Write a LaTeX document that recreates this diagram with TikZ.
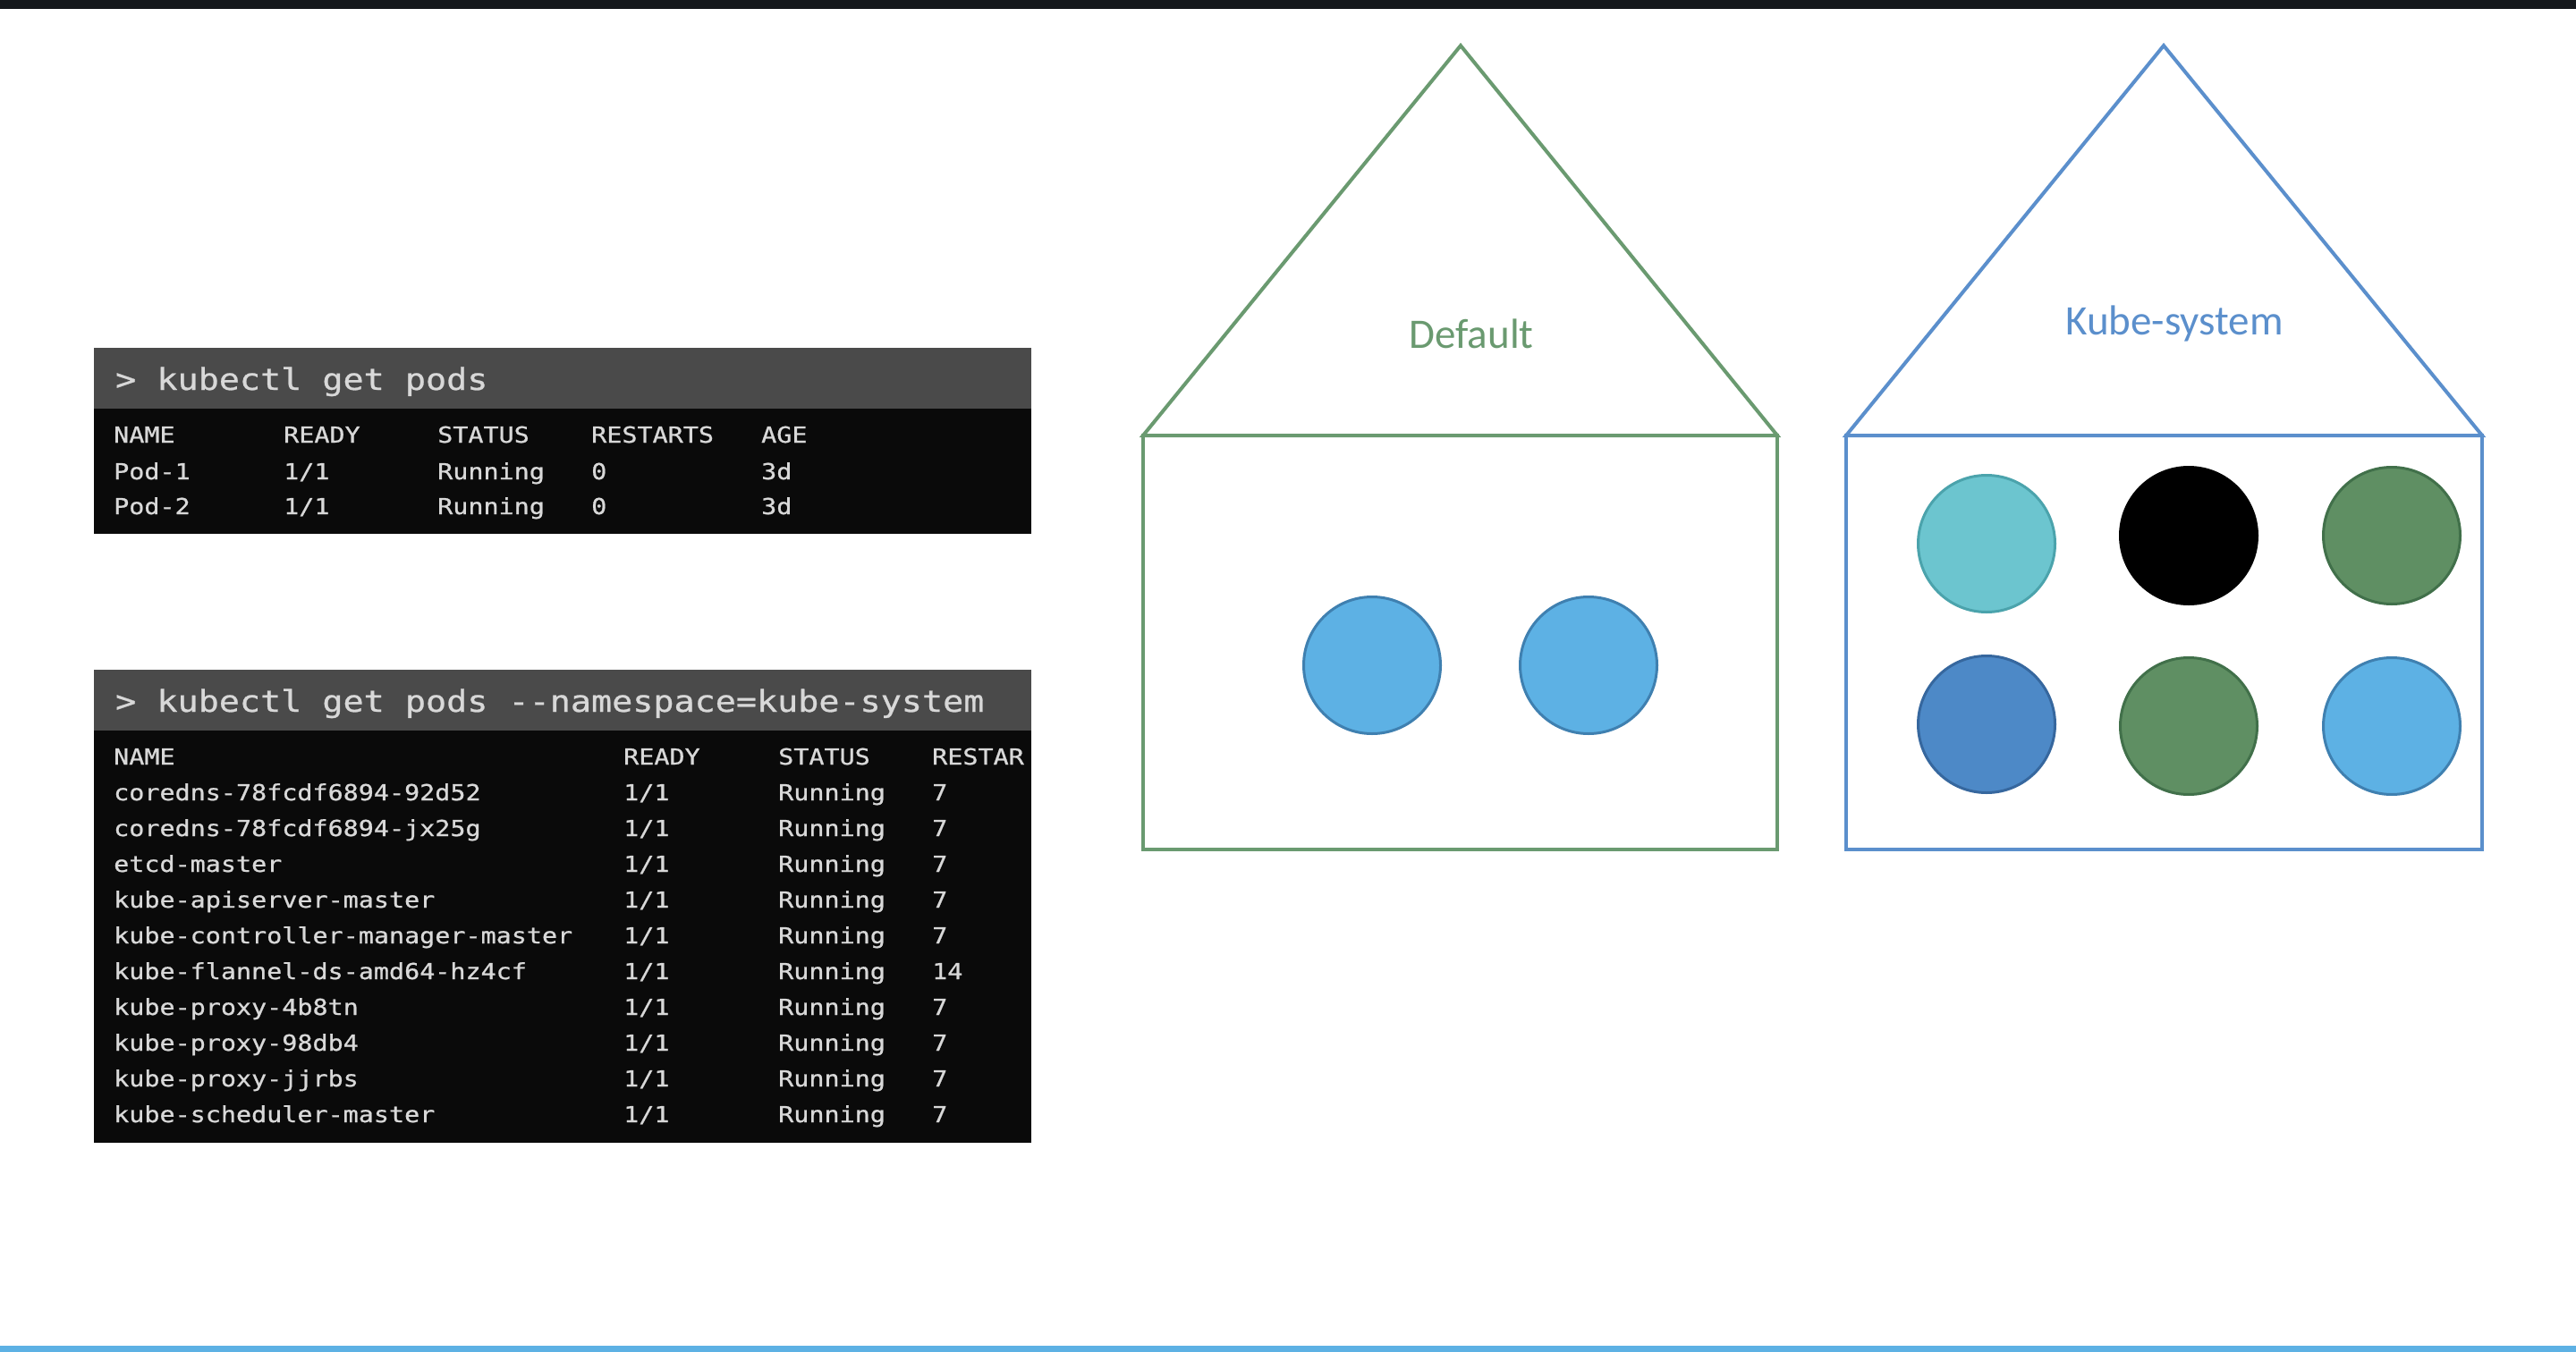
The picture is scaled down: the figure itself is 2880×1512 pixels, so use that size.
\documentclass[tikz,border=0pt]{standalone}
\usepackage{fontspec}
\setmainfont{Carlito}
\newfontfamily\termfont[FakeStretch=1.15,FakeBold=0.8]{DejaVu Sans Mono}
\definecolor{topbar}{HTML}{15181C}
\definecolor{bottomline}{HTML}{5DB1E4}
\definecolor{termhead}{HTML}{4A4A4A}
\definecolor{termbody}{HTML}{0A0A0A}
\definecolor{termtext}{HTML}{D8D8D8}
\definecolor{housegreen}{HTML}{6A9A70}
\definecolor{houseblue}{HTML}{5B8FCC}
\definecolor{podsky}{HTML}{5DB1E4}
\definecolor{podskyline}{HTML}{3F80B0}
\definecolor{podcyan}{HTML}{6CC5CF}
\definecolor{podcyanline}{HTML}{4BA3AC}
\definecolor{podgreen}{HTML}{5F8F63}
\definecolor{podgreenline}{HTML}{41704A}
\definecolor{podblue}{HTML}{4D89C7}
\definecolor{podblueline}{HTML}{36679E}
\tikzset{
  termrow/.style={anchor=base west, inner sep=0pt, text=termtext,
    font=\termfont\fontsize{24.7}{30}\selectfont},
  termhd/.style={anchor=base west, inner sep=0pt, text=termtext,
    font=\termfont\fontsize{33.4}{40}\selectfont},
  houseline/.style={line width=4pt, line join=miter},
  pod/.style={circle, minimum size=153pt, inner sep=0pt, line width=3pt},
  nslabel/.style={anchor=base, inner sep=0pt, font=\fontsize{47}{56}\selectfont}
}
\begin{document}
\begin{tikzpicture}[x=1pt,y=-1pt]
\useasboundingbox (0,0) rectangle (2880,1512);
\fill[white] (0,0) rectangle (2880,1512);
% frame bars
\fill[topbar] (0,0) rectangle (2880,10);
\fill[bottomline] (0,1505) rectangle (2880,1512);

% ---- terminal 1 ----
\fill[termhead] (105,389) rectangle (1153,457);
\fill[termbody] (105,457) rectangle (1153,597);
\node[termhd] (t1cmd) at (129,436) {> kubectl get pods};
\foreach \r/\y/\a/\b/\c/\d/\e in {0/495/NAME/READY/STATUS/RESTARTS/AGE,
                                   1/536/Pod-1/{1/1}/Running/0/3d,
                                   2/575/Pod-2/{1/1}/Running/0/3d}{
  \node[termrow] (t1a\r) at (127,\y) {\a};
  \node[termrow] (t1b\r) at (317,\y) {\b};
  \node[termrow] (t1c\r) at (489,\y) {\c};
  \node[termrow] (t1d\r) at (661,\y) {\d};
  \node[termrow] (t1e\r) at (851,\y) {\e};
}

% ---- terminal 2 ----
\fill[termhead] (105,749) rectangle (1153,817);
\fill[termbody] (105,817) rectangle (1153,1278);
\node[termhd] (t2cmd) at (129,796) {> kubectl get pods -{}-namespace=kube-system};
\node[termrow] (t2a0) at (127,855) {NAME};
\node[termrow] (t2b0) at (697,855) {READY};
\node[termrow] (t2c0) at (870,855) {STATUS};
\node[termrow] (t2d0) at (1042,855) {RESTAR};
\foreach \r/\n/\k in {1/coredns-78fcdf6894-92d52/7,
                      2/coredns-78fcdf6894-jx25g/7,
                      3/etcd-master/7,
                      4/kube-apiserver-master/7,
                      5/kube-controller-manager-master/7,
                      6/kube-flannel-ds-amd64-hz4cf/14,
                      7/kube-proxy-4b8tn/7,
                      8/kube-proxy-98db4/7,
                      9/kube-proxy-jjrbs/7,
                      10/kube-scheduler-master/7}{
  \pgfmathsetmacro{\yy}{855+40*\r}
  \node[termrow] (t2a\r) at (127,\yy) {\n};
  \node[termrow] (t2b\r) at (697,\yy) {1/1};
  \node[termrow] (t2c\r) at (870,\yy) {Running};
  \node[termrow] (t2d\r) at (1042,\yy) {\k};
}

% ---- Default namespace house ----
\draw[houseline, housegreen] (1278,487) -- (1633,51) -- (1987,487) -- cycle;
\draw[houseline, housegreen] (1278,487) rectangle (1987,950);
\node[nslabel, text=housegreen] (deflabel) at (1645,389) {Default};
\node[pod, fill=podsky, draw=podskyline] (dp1) at (1534,744) {};
\node[pod, fill=podsky, draw=podskyline] (dp2) at (1776,744) {};

% ---- Kube-system namespace house ----
\draw[houseline, houseblue] (2064,487) -- (2419,51) -- (2775,487) -- cycle;
\draw[houseline, houseblue] (2064,487) rectangle (2775,950);
\node[nslabel, text=houseblue] (kslabel) at (2431,374) {Kube-system};
\node[pod, fill=podcyan, draw=podcyanline] (kp1) at (2221,608) {};
\node[pod, fill=black, draw=black] (kp2) at (2447,599) {};
\node[pod, fill=podgreen, draw=podgreenline] (kp3) at (2674,599) {};
\node[pod, fill=podblue, draw=podblueline] (kp4) at (2221,810) {};
\node[pod, fill=podgreen, draw=podgreenline] (kp5) at (2447,812) {};
\node[pod, fill=podsky, draw=podskyline] (kp6) at (2674,812) {};
\end{tikzpicture}
\end{document}
